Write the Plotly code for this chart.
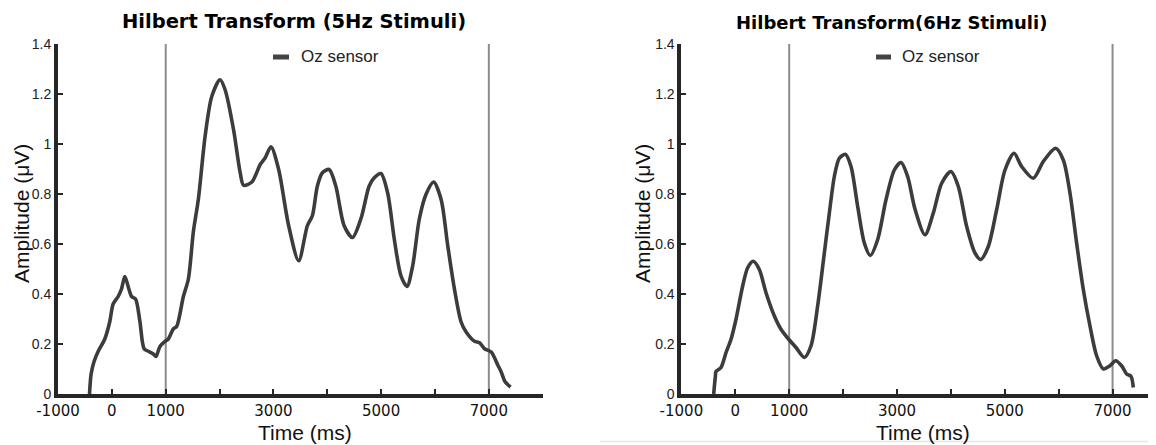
import plotly.graph_objects as go

# ---------------- data ----------------
t_5hz = [-415, -385, -330, -255, -131, -38, 24, 117, 179, 241, 316, 366, 440, 521, 601,
         688, 769, 819, 893, 986, 1048, 1141, 1203, 1328, 1421, 1514, 1607, 1731, 1855,
         2010, 2103, 2259, 2383, 2445, 2600, 2755, 2848, 2954, 3097, 3283, 3469, 3630,
         3723, 3816, 3909, 4034, 4158, 4313, 4468, 4623, 4778, 4872, 4996, 5120, 5244,
         5368, 5480, 5585, 5709, 5834, 5976, 6113, 6237, 6361, 6485, 6578, 6734, 6827,
         6920, 7044, 7168, 7230, 7305, 7404]
amp_5hz = [0.0, 0.08, 0.13, 0.17, 0.22, 0.29, 0.36, 0.39, 0.42, 0.47, 0.42, 0.39, 0.38, 0.29, 0.18,
           0.17, 0.16, 0.15, 0.19, 0.21, 0.22, 0.26, 0.27, 0.39, 0.46, 0.65, 0.78, 1.03, 1.19,
           1.257, 1.217, 1.058, 0.885, 0.835, 0.848, 0.918, 0.945, 0.989, 0.898, 0.673, 0.533, 0.673,
           0.713, 0.832, 0.885, 0.898, 0.832, 0.673, 0.626, 0.70, 0.832, 0.865, 0.882, 0.805, 0.62,
           0.473, 0.43, 0.512, 0.70, 0.799, 0.848, 0.779, 0.593, 0.42, 0.288, 0.248, 0.211, 0.205,
           0.181, 0.168, 0.115, 0.088, 0.048, 0.028]

t_6hz = [-401, -370, -358, -265, -172, -79, 13, 137, 230, 335, 446, 570, 725, 848, 990, 1126,
         1281, 1405, 1528, 1652, 1745, 1838, 1930, 2042, 2147, 2271, 2394, 2505, 2641, 2796,
         2951, 3075, 3198, 3334, 3520, 3674, 3829, 4002, 4138, 4293, 4447, 4552, 4694, 4849,
         5004, 5171, 5313, 5529, 5715, 5944, 6086, 6210, 6333, 6457, 6581, 6704, 6828, 6952,
         7057, 7168, 7261, 7341, 7385]
amp_6hz = [0.0, 0.07, 0.09, 0.106, 0.166, 0.219, 0.299, 0.432, 0.505, 0.531, 0.498, 0.405, 0.312, 0.259, 0.219, 0.186,
           0.146, 0.193, 0.352, 0.564, 0.724, 0.87, 0.943, 0.959, 0.91, 0.75, 0.604, 0.554, 0.617, 0.777,
           0.896, 0.926, 0.87, 0.74, 0.637, 0.724, 0.843, 0.89, 0.83, 0.67, 0.564, 0.538, 0.59, 0.737,
           0.896, 0.963, 0.91, 0.863, 0.93, 0.983, 0.936, 0.804, 0.604, 0.418, 0.272, 0.153, 0.10, 0.113,
           0.133, 0.113, 0.08, 0.071, 0.026]

stim_lines = [1000, 7000]
x_tickvals = [-1000, 0, 1000, 2000, 3000, 4000, 5000, 6000, 7000, 8000]
x_ticktext = ["-1000", "0", "1000", "", "3000", "", "5000", "", "7000", ""]
y_tickvals = [0, 0.2, 0.4, 0.6, 0.8, 1.0, 1.2, 1.4]
y_ticktext = ["0", "0.2", "0.4", "0.6", "0.8", "1", "1.2", "1.4"]
titles = ["Hilbert Transform (5Hz Stimuli)", "Hilbert Transform(6Hz Stimuli)"]
legend_name = "Oz sensor"

# ---------------- figure ----------------
# page body has an 8px default margin: size the figure to fill the rest of the window
OFF = 8
W, H = 1156 - OFF, 445 - OFF
def px(x):
    return (x - OFF) / W
def py(y):
    return 1 - (y - OFF) / H

LINE = "#3c3c3c"
AX = "#262626"

fig = go.Figure()
fig.add_trace(go.Scatter(x=t_5hz, y=amp_5hz, mode="lines", name=legend_name,
                         line=dict(color=LINE, width=3.6, shape="spline", smoothing=0.8),
                         xaxis="x", yaxis="y", showlegend=False))
fig.add_trace(go.Scatter(x=t_6hz, y=amp_6hz, mode="lines", name=legend_name,
                         line=dict(color=LINE, width=3.6, shape="spline", smoothing=0.8),
                         xaxis="x2", yaxis="y2", showlegend=False))

xcommon = dict(showline=True, linewidth=4, linecolor=AX, showgrid=False, zeroline=False,
               automargin=False,
               ticks="inside", ticklen=5, tickwidth=2, tickcolor=AX,
               tickvals=x_tickvals, ticktext=x_ticktext,
               tickfont=dict(family="DejaVu Sans", size=15, color="#111"))
ycommon = dict(showline=True, linewidth=4, linecolor=AX, showgrid=False, zeroline=False,
               automargin=False,
               ticks="inside", ticklen=5, tickwidth=2, tickcolor=AX, range=[0, 1.4],
               tickvals=y_tickvals, ticktext=y_ticktext,
               tickfont=dict(family="Liberation Sans", size=14, color="#222"))

ydom = [py(394), py(44)]
fig.update_layout(
    template="none",
    width=W, height=H, margin=dict(l=0, r=0, t=0, b=0, pad=0),
    paper_bgcolor="white", plot_bgcolor="white",
    xaxis=dict(domain=[px(58), px(542.7)], range=[-1000, 8000], anchor="y", **xcommon),
    yaxis=dict(domain=ydom, anchor="x", **ycommon),
    xaxis2=dict(domain=[px(681.4), 1.0], range=[-1000, 7806], anchor="y2", **xcommon),
    yaxis2=dict(domain=ydom, anchor="x2", **ycommon),
    showlegend=False,
)

shapes = []
for xr, yr in (("x", "y"), ("x2", "y2")):
    for s in stim_lines:
        shapes.append(dict(type="line", xref=xr, yref=yr, x0=s, x1=s, y0=0, y1=1.4,
                           line=dict(color="#8c8c8c", width=2), layer="below"))
# legend swatches
shapes.append(dict(type="line", xref="paper", yref="paper", x0=px(273), x1=px(289),
                   y0=py(57), y1=py(57), line=dict(color="#444", width=5)))
shapes.append(dict(type="line", xref="paper", yref="paper", x0=px(876), x1=px(891),
                   y0=py(57), y1=py(57), line=dict(color="#444", width=5)))
# faint bottom border line in right panel
shapes.append(dict(type="line", xref="paper", yref="paper", x0=px(600), x1=1.0,
                   y0=py(441.5), y1=py(441.5), line=dict(color="#e6e6e6", width=1.5)))
fig.update_layout(shapes=shapes)

ann = []
ann.append(dict(text=titles[0], x=px(294), y=py(21), xref="paper", yref="paper",
                showarrow=False, xanchor="center", yanchor="middle",
                font=dict(family="DejaVu Sans", size=19.5, color="#000", weight="bold")))
ann.append(dict(text=titles[1], x=px(891.5), y=py(22), xref="paper", yref="paper",
                showarrow=False, xanchor="center", yanchor="middle",
                font=dict(family="DejaVu Sans", size=18, color="#000", weight="bold")))
axis_font = dict(family="Liberation Sans", size=21, color="#111")
for cx in (305, 923):
    ann.append(dict(text="Time (ms)", x=px(cx), y=py(432), xref="paper", yref="paper",
                    showarrow=False, xanchor="center", yanchor="middle", font=axis_font))
for cx in (21, 642):
    ann.append(dict(text="Amplitude (μV)", x=px(cx), y=py(214), xref="paper", yref="paper",
                    showarrow=False, xanchor="center", yanchor="middle", textangle=-90,
                    font=dict(family="Liberation Sans", size=21, color="#111")))
leg_font = dict(family="Liberation Sans", size=17, color="#222")
for lx in (299, 900):
    ann.append(dict(text=legend_name, x=px(lx), y=py(57), xref="paper", yref="paper",
                    showarrow=False, xanchor="left", yanchor="middle", font=leg_font))
fig.update_layout(annotations=ann)

fig.write_html("out.html")
